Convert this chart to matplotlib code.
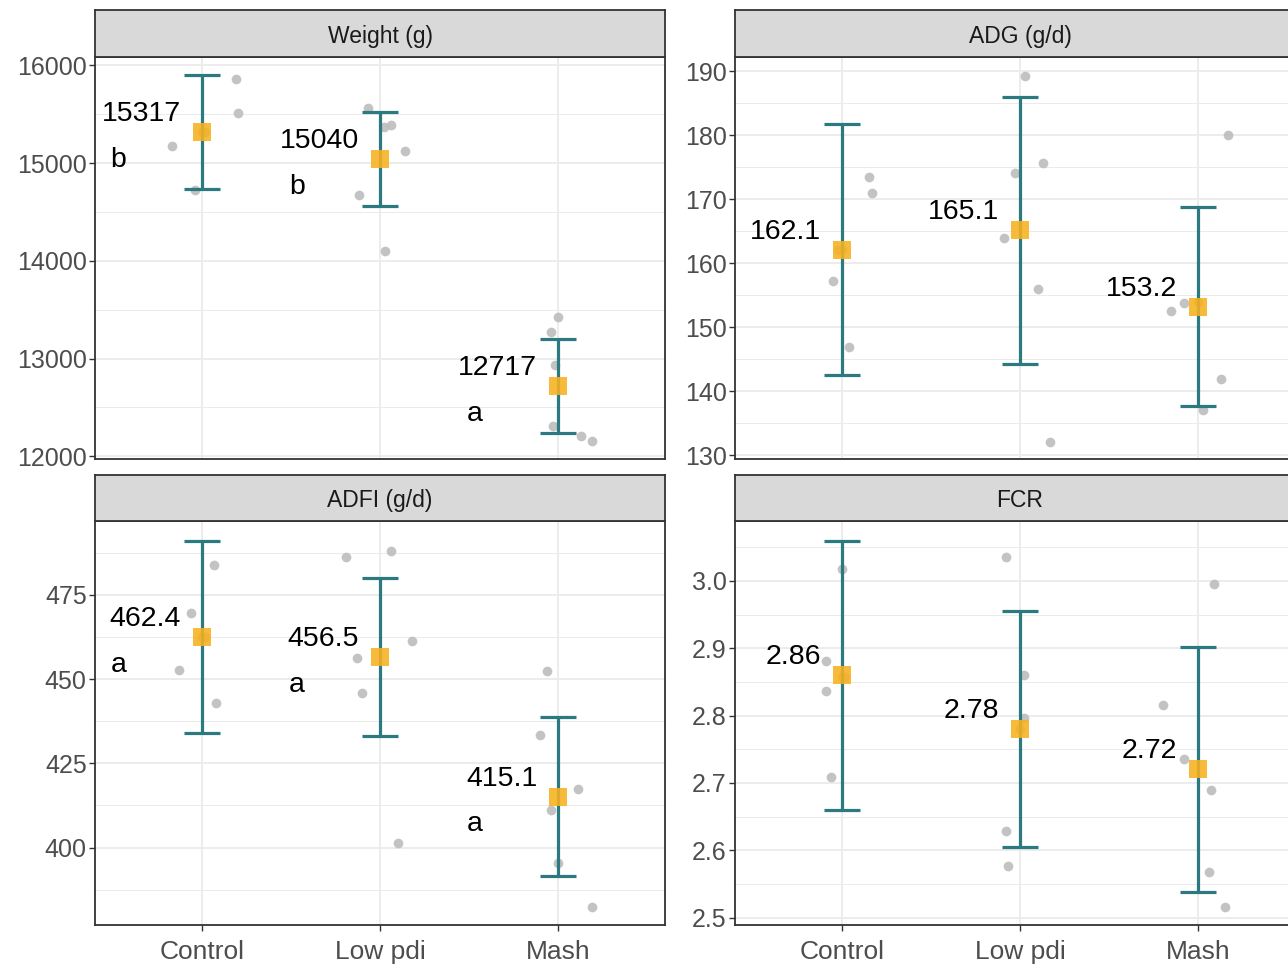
import numpy as np
import matplotlib.pyplot as plt
from matplotlib.ticker import FixedLocator

plt.rcParams['font.family'] = ['Liberation Sans', 'DejaVu Sans']

groups = ['Control', 'Low pdi', 'Mash']

# facet titles
titles = ['Weight (g)', 'ADG (g/d)', 'ADFI (g/d)', 'FCR']

# means and sd (error bars)
weight_mean = [15317, 15040, 12717]
weight_sd = [585, 479, 480]
adg_mean = [162.1, 165.1, 153.2]
adg_sd = [19.6, 20.8, 15.5]
adfi_mean = [462.4, 456.5, 415.1]
adfi_sd = [28.5, 23.5, 23.5]
fcr_mean = [2.86, 2.78, 2.72]
fcr_sd = [0.200, 0.175, 0.182]

# letters from the mean comparison
weight_letters = ['b', 'b', 'a']
adfi_letters = ['a', 'a', 'a']

# raw values per pen, with the jitter
weight_pts = [[15860, 15509, 15170, 14724, 15320, 15320],
              [15563, 15365, 15389, 15119, 14673, 14103],
              [13426, 13269, 12939, 12315, 12205, 12154]]
weight_jit = [[0.19, 0.20, -0.17, -0.04, 0.0, 0.02],
              [-0.07, 0.02, 0.06, 0.14, -0.12, 0.03],
              [0.0, -0.04, -0.02, -0.03, 0.13, 0.19]]
adg_pts = [[173.5, 171.0, 157.2, 146.9, 162.0, 162.0],
           [189.3, 175.6, 174.1, 164.0, 155.9, 132.1],
           [180.0, 153.7, 152.5, 141.9, 137.1, 154.0]]
adg_jit = [[0.15, 0.17, -0.05, 0.04, 0.0, -0.02],
           [0.03, 0.13, -0.03, -0.09, 0.10, 0.17],
           [0.17, -0.08, -0.15, 0.13, 0.03, 0.0]]
adfi_pts = [[483.8, 469.6, 452.8, 442.9, 462.6, 462.6],
            [486.3, 488.1, 461.3, 456.3, 445.9, 401.3],
            [452.3, 433.3, 417.3, 411.2, 395.3, 382.3]]
adfi_jit = [[0.07, -0.06, -0.13, 0.08, 0.0, 0.02],
            [-0.19, 0.06, 0.18, -0.13, -0.10, 0.10],
            [-0.06, -0.10, 0.11, -0.04, 0.0, 0.19]]
fcr_pts = [[3.018, 2.881, 2.836, 2.709, 2.858, 2.858],
           [3.036, 2.860, 2.797, 2.628, 2.577, 2.780],
           [2.995, 2.816, 2.735, 2.690, 2.568, 2.515]]
fcr_jit = [[0.0, -0.09, -0.09, -0.06, 0.0, 0.02],
           [-0.08, 0.02, 0.02, -0.08, -0.07, 0.0],
           [0.09, -0.20, -0.08, 0.07, 0.06, 0.15]]

teal = '#2B7A7F'
orange = '#F7B11E'
border = '#333333'
grid = '#EBEBEB'

fig = plt.figure(figsize=(12.88, 9.68), dpi=100)
W, H = 1288.0, 968.0


def make_panel(px_left, px_top, px_bottom, strip_top, title):
    ax = fig.add_axes([px_left / W, 1 - px_bottom / H, 570 / W, (px_bottom - px_top) / H])
    st = fig.add_axes([px_left / W, 1 - px_top / H, 570 / W, (px_top - strip_top) / H])
    st.set_facecolor('#D9D9D9')
    st.set_xticks([])
    st.set_yticks([])
    for s in st.spines.values():
        s.set_color(border)
        s.set_linewidth(1.3)
    st.text(0.5, 0.44, title, ha='center', va='center', fontsize=16.5,
            color='#1A1A1A', transform=st.transAxes)
    return ax


def draw(ax, means, sd, pts, jit, ylim, major, minor, fmt, letters, bottom_row):
    for i in range(3):
        xs = [i + j for j in jit[i]]
        ax.plot(xs, pts[i], 'o', color='#BDBDBD', markersize=7, alpha=0.9,
                markeredgewidth=0, zorder=2)
    x = np.arange(3)
    ax.errorbar(x, means, yerr=sd, fmt='none', ecolor=teal, elinewidth=2.3,
                capsize=13, capthick=2.3, zorder=3)
    ax.plot(x, means, 's', color=orange, markersize=13, alpha=0.88,
            markeredgewidth=0, zorder=4)
    for i in range(3):
        ax.annotate(fmt.format(means[i]), xy=(i, means[i]), xytext=(-15, 13),
                    textcoords='offset points', ha='right', va='center',
                    fontsize=20.5, color='black', zorder=5)
        if letters:
            ax.annotate(letters[i], xy=(i, means[i]), xytext=(-60, -20),
                        textcoords='offset points', ha='center', va='center',
                        fontsize=20.5, color='black', zorder=5)
    ax.set_xlim(-0.6, 2.6)
    ax.set_ylim(*ylim)
    ax.yaxis.set_major_locator(FixedLocator(major))
    ax.yaxis.set_minor_locator(FixedLocator(minor))
    ax.set_xticks(x)
    ax.grid(True, which='major', color=grid, linewidth=1.3, zorder=0)
    ax.grid(True, which='minor', axis='y', color=grid, linewidth=0.7, zorder=0)
    ax.set_axisbelow(True)
    ax.tick_params(axis='y', which='major', length=4, width=1, color=border,
                   labelsize=18, labelcolor='#4D4D4D', pad=2)
    ax.tick_params(axis='y', which='minor', length=0)
    if bottom_row:
        ax.set_xticklabels(groups)
        ax.tick_params(axis='x', length=4, width=1, color=border,
                       labelsize=19, labelcolor='#4D4D4D', pad=7)
    else:
        ax.tick_params(axis='x', length=0, labelbottom=False)
    for s in ax.spines.values():
        s.set_color(border)
        s.set_linewidth(1.3)


ax1 = make_panel(95, 57, 459, 10, titles[0])
draw(ax1, weight_mean, weight_sd, weight_pts, weight_jit, (11973, 16085),
     [12000, 13000, 14000, 15000, 16000], [12500, 13500, 14500, 15500],
     '{:.0f}', weight_letters, False)

ax2 = make_panel(735, 57, 459, 10, titles[1])
draw(ax2, adg_mean, adg_sd, adg_pts, adg_jit, (129.4, 192.2),
     [130, 140, 150, 160, 170, 180, 190], [135, 145, 155, 165, 175, 185],
     '{:.1f}', None, False)

ax3 = make_panel(95, 521, 925, 475, titles[2])
draw(ax3, adfi_mean, adfi_sd, adfi_pts, adfi_jit, (377.0, 496.9),
     [400, 425, 450, 475], [387.5, 412.5, 437.5, 462.5, 487.5],
     '{:.1f}', adfi_letters, True)

ax4 = make_panel(735, 521, 925, 475, titles[3])
draw(ax4, fcr_mean, fcr_sd, fcr_pts, fcr_jit, (2.489, 3.089),
     [2.5, 2.6, 2.7, 2.8, 2.9, 3.0], [2.55, 2.65, 2.75, 2.85, 2.95, 3.05],
     '{:.2f}', None, True)

fig.savefig('out.png', dpi=100)
